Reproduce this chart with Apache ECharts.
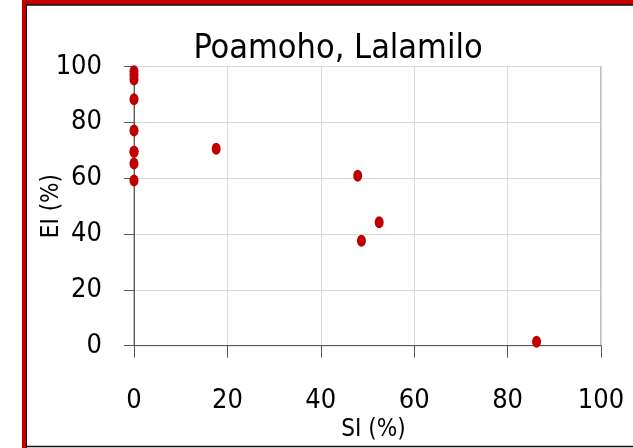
<!DOCTYPE html>
<html>
<head>
<meta charset="utf-8">
<script src="https://cdn.jsdelivr.net/npm/echarts@6/dist/echarts.min.js"></script>
<style>html,body{margin:0;padding:0;background:#fff;}#c{width:633px;height:448px;}</style>
</head>
<body>
<div id="c"></div>
<script>
const titleText = "Poamoho, Lalamilo";
const xAxisName = "SI (%)";
const yAxisName = "EI (%)";
const siValues = [0, 0, 0, 0, 0, 0, 0, 0, 0, 17.6, 47.9, 52.5, 48.7, 86.2];
const eiValues = [98.3, 96.8, 95.3, 88.3, 77.1, 69.5, 65.3, 59.2, 69.5, 70.5, 60.9, 44.2, 37.6, 1.4];
const xTicks = [0, 20, 40, 60, 80, 100];
const yTicks = [0, 20, 40, 60, 80, 100];

const FONT = "'Liberation Sans Narrow', 'DejaVu Sans Condensed', 'Open Sans', sans-serif";
const points = siValues.map((x, i) => [x, eiValues[i]]);

const chart = echarts.init(document.getElementById('c'), null, {renderer: 'canvas'});
chart.setOption({
  backgroundColor: '#ffffff',
  animation: false,
  title: {
    text: titleText, left: 333, top: 27, textAlign: 'center',
    textStyle: {fontFamily: FONT, fontSize: 34, fontWeight: 'normal', color: '#000'}
  },
  grid: {left: 134, right: 32, top: 66.5, bottom: 102.3, show: true, borderColor: '#7f7f7f', borderWidth: 1},
  xAxis: {
    type: 'value', min: xTicks[0], max: xTicks[xTicks.length - 1], interval: 20,
    name: xAxisName, nameLocation: 'middle', nameGap: 72, nameMoveOverlap: false,
    nameTextStyle: {fontFamily: FONT, fontSize: 24, color: '#000', padding: [0, 0, 0, 12]},
    axisLine: {show: true, onZero: false, lineStyle: {color: '#595959', width: 1}},
    axisTick: {show: true, inside: false, length: 12, lineStyle: {color: '#595959'}},
    axisLabel: {margin: 42, fontFamily: FONT, fontSize: 27, color: '#000'},
    splitLine: {show: true, lineStyle: {color: '#d9d9d9', width: 1}}
  },
  yAxis: {
    type: 'value', min: yTicks[0], max: yTicks[yTicks.length - 1], interval: 20,
    name: yAxisName, nameLocation: 'middle', nameGap: 70, nameRotate: 90, nameMoveOverlap: false,
    nameTextStyle: {fontFamily: FONT, fontSize: 24, color: '#000'},
    axisLine: {show: true, onZero: false, lineStyle: {color: '#595959', width: 1}},
    axisTick: {show: true, inside: false, length: 10, lineStyle: {color: '#595959'}},
    axisLabel: {margin: 32, fontFamily: FONT, fontSize: 27, color: '#000'},
    splitLine: {show: true, lineStyle: {color: '#d9d9d9', width: 1}}
  },
  series: [{
    type: 'scatter',
    data: points,
    symbol: 'circle',
    symbolSize: [9, 12],
    itemStyle: {color: '#c00000', opacity: 1},
    z: 5
  }],
  graphic: [
    {type: 'rect', shape: {x: 22, y: 0, width: 5, height: 448}, style: {fill: '#c00000'}, silent: true},
    {type: 'rect', shape: {x: 22, y: 0, width: 611, height: 5}, style: {fill: '#c00000'}, silent: true},
    {type: 'line', shape: {x1: 26.5, y1: 5, x2: 26.5, y2: 448}, style: {stroke: '#111', lineWidth: 1}, silent: true},
    {type: 'line', shape: {x1: 26, y1: 5, x2: 633, y2: 5}, style: {stroke: '#111', lineWidth: 1.5}, silent: true},
    {type: 'line', shape: {x1: 26, y1: 446.5, x2: 633, y2: 446.5}, style: {stroke: '#111', lineWidth: 1.5}, silent: true}
  ]
});
</script>
</body>
</html>
